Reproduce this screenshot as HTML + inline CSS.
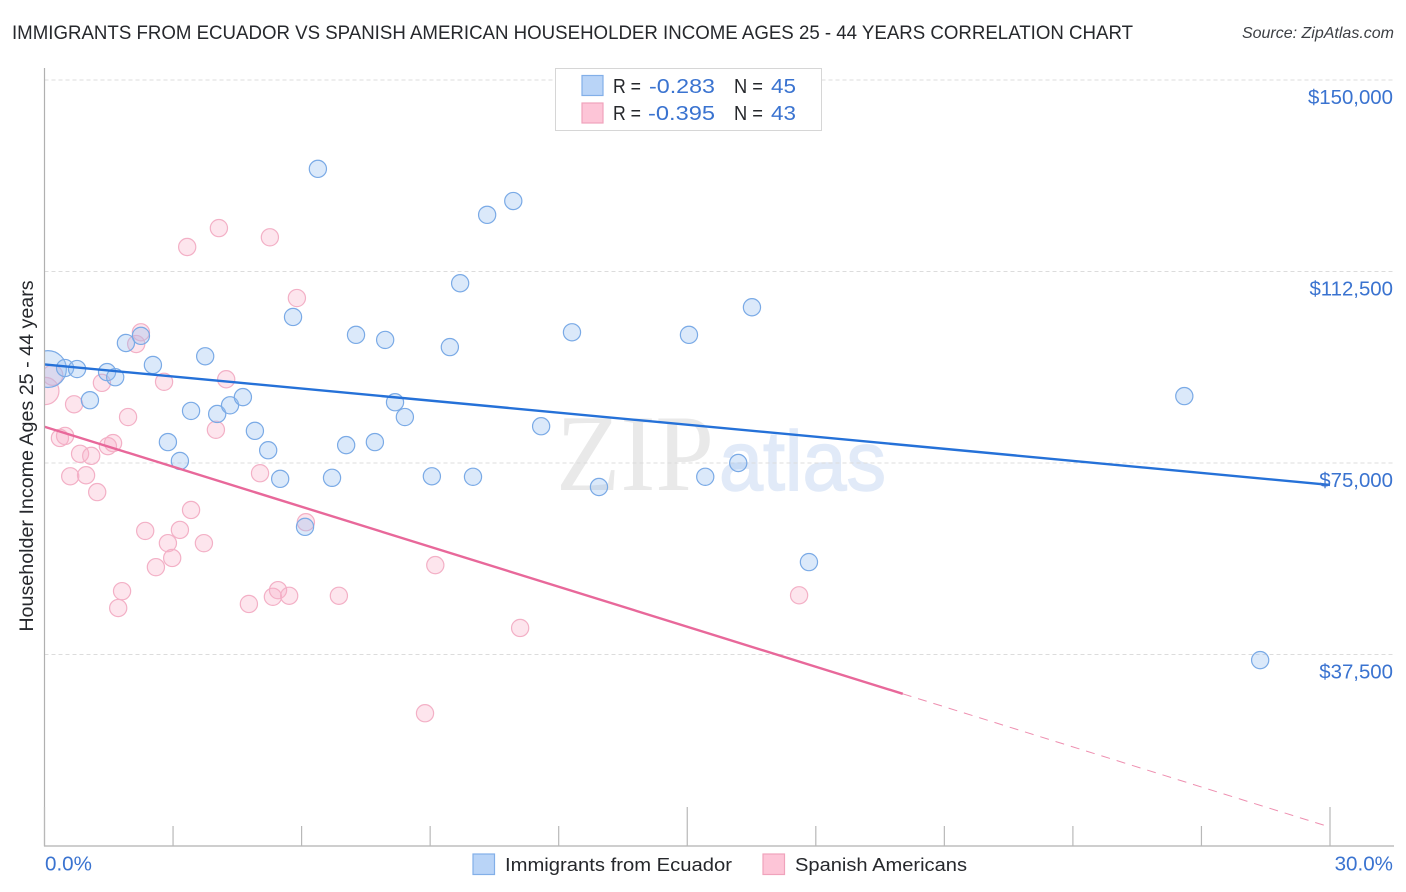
<!DOCTYPE html>
<html lang="en">
<head>
<meta charset="utf-8">
<title>Immigrants from Ecuador vs Spanish American Householder Income Correlation Chart</title>
<style>
html,body{margin:0;padding:0;background:#fff;width:1406px;height:892px;overflow:hidden}
svg{display:block;font-family:"Liberation Sans",Arial,sans-serif}
</style>
</head>
<body>
<svg id="chart" width="1406" height="892" viewBox="0 0 1406 892" xmlns="http://www.w3.org/2000/svg">
<text x="12" y="39" font-size="19.6" fill="#26282c" textLength="1121" lengthAdjust="spacingAndGlyphs">IMMIGRANTS FROM ECUADOR VS SPANISH AMERICAN HOUSEHOLDER INCOME AGES 25 - 44 YEARS CORRELATION CHART</text>
<text x="1394" y="38" font-size="16" font-style="italic" fill="#3c3f44" text-anchor="end">Source: ZipAtlas.com</text>
<g>
<text x="556" y="490" font-family="'Liberation Serif',serif" font-size="109" fill="#e9e9e9" textLength="158" lengthAdjust="spacingAndGlyphs">ZIP</text>
<text x="719" y="490" font-family="'Liberation Sans',sans-serif" font-size="84" fill="#e1eaf8" stroke="#e1eaf8" stroke-width="1.5" textLength="167" lengthAdjust="spacingAndGlyphs">atlas</text>
</g>
<g id="grid"></g>
<g id="pink-points"></g>
<g id="blue-points"></g>
<rect x="0" y="60" width="44.5" height="786" fill="#fff"/>
<g id="trends"></g>
<g id="axes"></g>
<text transform="translate(33,456) rotate(-90)" font-size="19.7" fill="#26282c" text-anchor="middle">Householder Income Ages 25 - 44 years</text>
<g>
<rect x="555.5" y="68.5" width="266" height="62" fill="#fff" stroke="#d6d6d6"/>
<rect x="582" y="75.5" width="21" height="20" fill="#b9d4f7" stroke="#82afe8" stroke-width="1.2"/>
<rect x="582" y="103" width="21" height="20" fill="#fdc5d7" stroke="#f0a3bc" stroke-width="1.2"/>
<g font-size="20.5">
<text x="613" y="93" fill="#26282c" textLength="28" lengthAdjust="spacingAndGlyphs">R =</text>
<text x="649" y="93" fill="#3a73d0" textLength="66" lengthAdjust="spacingAndGlyphs">-0.283</text>
<text x="734" y="93" fill="#26282c" textLength="29" lengthAdjust="spacingAndGlyphs">N =</text>
<text x="771" y="93" fill="#3a73d0" textLength="25" lengthAdjust="spacingAndGlyphs">45</text>
<text x="613" y="120" fill="#26282c" textLength="28" lengthAdjust="spacingAndGlyphs">R =</text>
<text x="648" y="120" fill="#3a73d0" textLength="67" lengthAdjust="spacingAndGlyphs">-0.395</text>
<text x="734" y="120" fill="#26282c" textLength="29" lengthAdjust="spacingAndGlyphs">N =</text>
<text x="771" y="120" fill="#3a73d0" textLength="25" lengthAdjust="spacingAndGlyphs">43</text>
</g>
</g>
<g>
<rect x="473" y="854" width="21.5" height="20.5" fill="#b9d4f7" stroke="#82afe8" stroke-width="1.2"/>
<text x="505" y="871" font-size="18.6" fill="#26282c" textLength="227" lengthAdjust="spacingAndGlyphs">Immigrants from Ecuador</text>
<rect x="763" y="854" width="21.5" height="20.5" fill="#fdc5d7" stroke="#f0a3bc" stroke-width="1.2"/>
<text x="795" y="871" font-size="18.6" fill="#26282c" textLength="172" lengthAdjust="spacingAndGlyphs">Spanish Americans</text>
</g>
</svg>
<script>
const yTickValues = [37500, 75000, 112500, 150000];
const yTickLabels = ["$37,500", "$75,000", "$112,500", "$150,000"];
const xTickValues = [0, 3, 6, 9, 12, 15, 18, 21, 24, 27, 30];
const xEndLabels = ["0.0%", "30.0%"];

const bluePct = [0.08,0.48,0.76,1.06,1.46,1.65,1.90,2.25,2.53,2.88,3.16,3.42,3.75,4.03,4.33,4.63,4.91,5.22,5.50,5.80,6.08,6.38,6.71,7.04,7.27,7.71,7.95,8.18,8.41,9.04,9.46,9.70,10.00,10.33,10.94,11.59,12.31,12.94,15.04,15.42,16.19,16.51,17.84,26.60,28.37];
const blueIncome = [93400,93600,93400,87300,92800,91800,98500,99900,94200,79100,75400,85200,95900,84600,86300,87900,81300,77500,71900,103600,62500,132600,72100,78500,100100,79100,99100,86900,84000,72400,97700,110200,72300,123600,126300,82200,100600,70300,100100,72300,75000,105500,55600,88100,36400];
const blueWeight = [4.6,1,1,1,1,1,1,1,1,1,1,1,1,1,1,1,1,1,1,1,1,1,1,1,1,1,1,1,1,1,1,1,1,1,1,1,1,1,1,1,1,1,1,1,1];

const pinkPct = [0.02,0.19,0.69,0.36,0.48,0.60,0.83,0.97,1.09,1.23,1.34,1.48,1.60,1.72,1.81,1.95,2.14,2.25,2.35,2.60,2.79,2.88,2.98,3.16,3.33,3.42,3.72,4.00,4.07,4.24,4.77,5.03,5.26,5.33,5.45,5.71,5.89,6.10,6.87,8.88,9.12,11.10,17.61];
const pinkIncome = [89100,92200,86500,79900,80300,72400,76800,72600,76400,69300,90700,78300,78900,46600,49900,84000,98300,100600,61700,54600,90900,59300,56400,61900,117300,65800,59300,81500,121000,91400,47400,73000,119200,48800,50100,49000,107300,63400,49000,26000,55000,42700,49100];
const pinkWeight = [2.5,1.4,1,1,1,1,1,1,1,1,1,1,1,1,1,1,1,1,1,1,1,1,1,1,1,1,1,1,1,1,1,1,1,1,1,1,1,1,1,1,1,1,1];

const blueTrendPct = [0, 30];
const blueTrendIncome = [94300, 70700];
const pinkTrendPct = [0, 20.03];
const pinkTrendIncome = [82100, 29800];
const pinkDashPct = [20.03, 30];
const pinkDashIncome = [29800, 3700];

const SVG_NS = "http://www.w3.org/2000/svg";
const xScale = function (pct) { return 44.5 + pct * 42.85; };
const yScale = function (income) { return 846 - income / 37500 * 191.5; };

function make(tag, parentId, attrs) {
  const el = document.createElementNS(SVG_NS, tag);
  Object.keys(attrs).forEach(function (k) { el.setAttribute(k, attrs[k]); });
  document.getElementById(parentId).appendChild(el);
  return el;
}

yTickValues.forEach(function (v, i) {
  const y = yScale(v);
  const line = make("line", "grid", {x1: 44.5, x2: 1394, y1: y, y2: y, stroke: "#dcdcdc", "stroke-width": 1, "stroke-dasharray": "4 3"});
  
  
  const label = make("text", "axes", {x: 1393, y: y + 24, "font-size": 20.4, fill: "#3a73d0", "text-anchor": "end"});
  label.textContent = yTickLabels[i];
  
  
});

const yAxisLine = make("line", "axes", {x1: 44.5, x2: 44.5, y1: 68, y2: 846.5, stroke: "#b0b0b0", "stroke-width": 1.2});


const xAxisLine = make("line", "axes", {x1: 44, x2: 1394, y1: 846, y2: 846, stroke: "#b0b0b0", "stroke-width": 1.2});



xTickValues.forEach(function (v) {
  const x = xScale(v);
  const major = v % 15 === 0;
  const tick = make("line", "axes", {x1: x, x2: x, y1: major ? 807 : 826, y2: 846, stroke: "#b8b8b8", "stroke-width": 1.2});
  
  
});

const xLabelLeft = make("text", "axes", {x: 45, y: 870.5, "font-size": 20.6, fill: "#3a73d0"});
xLabelLeft.textContent = xEndLabels[0];


const xLabelRight = make("text", "axes", {x: 1393, y: 870.5, "font-size": 20.6, fill: "#3a73d0", "text-anchor": "end"});
xLabelRight.textContent = xEndLabels[1];



pinkPct.forEach(function (p, i) {
  const c = make("circle", "pink-points", {cx: xScale(p), cy: yScale(pinkIncome[i]), r: 8.6 * Math.sqrt(pinkWeight[i]), fill: "rgba(250,175,198,0.32)", stroke: "#f3b0c6", "stroke-width": 1.2});
  
  
});

bluePct.forEach(function (p, i) {
  const c = make("circle", "blue-points", {cx: xScale(p), cy: yScale(blueIncome[i]), r: 8.6 * Math.sqrt(blueWeight[i]), fill: "rgba(150,190,240,0.34)", stroke: "#7aaae6", "stroke-width": 1.2});
  
  
});

const blueTrend = make("line", "trends", {x1: xScale(blueTrendPct[0]), y1: yScale(blueTrendIncome[0]), x2: xScale(blueTrendPct[1]), y2: yScale(blueTrendIncome[1]), stroke: "#2571d8", "stroke-width": 2.4});


const pinkTrend = make("line", "trends", {x1: xScale(pinkTrendPct[0]), y1: yScale(pinkTrendIncome[0]), x2: xScale(pinkTrendPct[1]), y2: yScale(pinkTrendIncome[1]), stroke: "#e8689a", "stroke-width": 2.4});


const pinkDash = make("line", "trends", {x1: xScale(pinkDashPct[0]), y1: yScale(pinkDashIncome[0]), x2: xScale(pinkDashPct[1]), y2: yScale(pinkDashIncome[1]), stroke: "#ee8fb0", "stroke-width": 1, "stroke-dasharray": "9 7"});


</script>
</body>
</html>
